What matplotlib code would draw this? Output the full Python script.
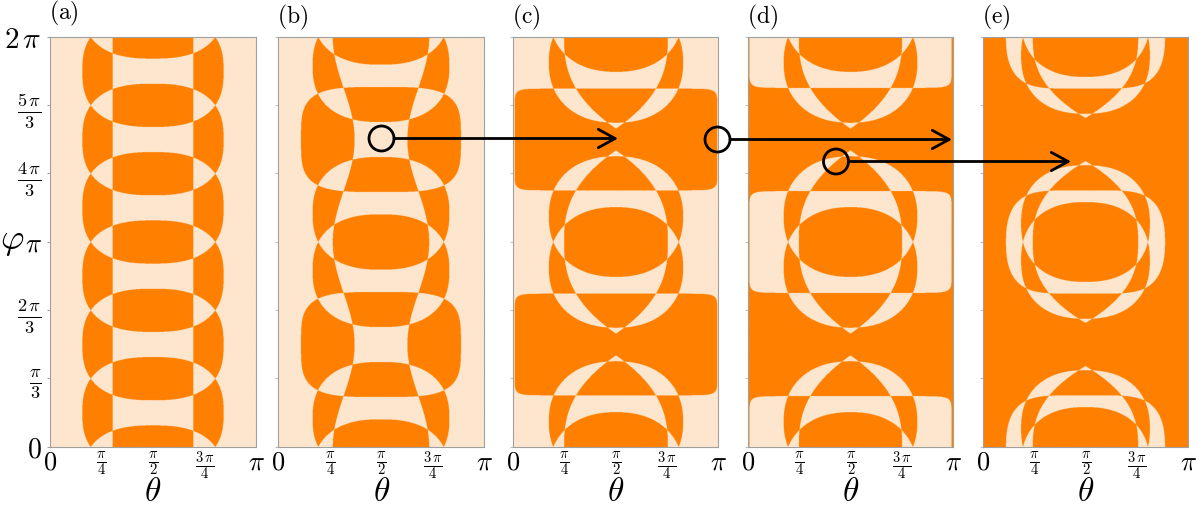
import numpy as np
import matplotlib
matplotlib.use('Agg')
import matplotlib.pyplot as plt
from matplotlib.colors import ListedColormap
from matplotlib.patches import Circle, FancyArrowPatch
import matplotlib.transforms as mtransforms

plt.rcParams['mathtext.fontset'] = 'cm'
plt.rcParams['font.family'] = 'serif'

# ---------------- data (angles in units of pi) ----------------
panel_labels = ['(a)', '(b)', '(c)', '(d)', '(e)']
base_parity = [0, 0, 0, 1, 1]
# central band / lens around phi = k*pi
# 'cos'  : half width = p0 + p1*cos(2*pi*d)
# 'lens' : half width = p0*(1-(d/p1)**q)
band_mode = ['cos', 'cos', 'lens', 'lens', 'lens']
band_p0 = [0.196, 0.181, 0.252, 0.252, 0.257]
band_p1 = [0.0, 0.053, 0.447, 0.447, 0.395]
band_q = [1.0, 1.0, 2.56, 2.56, 2.56]
# small lobes centred at k*pi +/- offset
lobe_off = [1 / 6, 0.14, 0.124, 0.124, 0.09]
lobe_a = [0.343, 0.332, 0.326, 0.326, 0.314]
lobe_h = [0.272, 0.275, 0.294, 0.294, 0.2845]
lobe_n = [2.6, 2.45, 2.25, 2.25, 2.35]
# large lobes centred at c0 + k*pi
big_c0 = [0.5, 0.5, 0.5, 0.0, 0.0]
big_a = [0.343, 0.388, 0.492, 0.493, 0.388]
big_h = [0.272, 0.256, 0.248, 0.248, 0.252]
big_nx = [2.6, 3.8, 16.0, 16.0, 5.0]
big_ny = [2.6, 3.8, 16.0, 16.0, 2.4]

xtick_vals = [0, 0.25, 0.5, 0.75, 1.0]
xtick_labels = [r'$0$', r'$\frac{\pi}{4}$', r'$\frac{\pi}{2}$', r'$\frac{3\,\pi}{4}$', r'$\pi$']
ytick_vals = [0, 1 / 3, 2 / 3, 1, 4 / 3, 5 / 3, 2]
ytick_labels = [r'$0$', r'$\frac{\pi}{3}$', r'$\frac{2\,\pi}{3}$', r'$\pi$',
                r'$\frac{4\,\pi}{3}$', r'$\frac{5\,\pi}{3}$', r'$2\,\pi$']

# ---------------- layout (pixels) ----------------
W, H = 1196, 507
panel_x0 = [50, 278.3, 513.3, 748.3, 983.3]
panel_w = [206, 206, 205, 205, 205]
top_px, bot_px = 36.7, 446.7

ORANGE = '#FF8000'
LIGHT = '#FDE6CE'
cmap = ListedColormap([LIGHT, ORANGE])

NX, NY = 700, 1400
th = (np.arange(NX) + 0.5) / NX          # theta / pi
ph = (np.arange(NY) + 0.5) / NY * 2.0    # phi / pi
TH, PH = np.meshgrid(th, ph)
DTH = np.abs(TH - 0.5)


def lobe(center, a, h, nx, ny):
    return (DTH / a) ** nx + (np.abs(PH - center) / h) ** ny < 1.0


def field(i):
    res = np.full(TH.shape, bool(base_parity[i]))
    d = np.abs(PH - np.round(PH))
    if band_mode[i] == 'cos':
        b = band_p0[i] + band_p1[i] * np.cos(2 * np.pi * d)
    else:
        b = band_p0[i] * np.clip(1.0 - (d / band_p1[i]) ** band_q[i], 0, None)
    res ^= DTH < b
    for k in (0, 1, 2):
        for s in (-1, 1):
            res ^= lobe(k + s * lobe_off[i], lobe_a[i], lobe_h[i], lobe_n[i], lobe_n[i])
    for k in (-1, 0, 1, 2, 3):
        c = big_c0[i] + k
        if -0.6 < c < 2.6:
            res ^= lobe(c, big_a[i], big_h[i], big_nx[i], big_ny[i])
    return res.astype(float)


fig = plt.figure(figsize=(W / 100, H / 100), dpi=100)
for i in range(5):
    ax = fig.add_axes([panel_x0[i] / W, (H - bot_px) / H, panel_w[i] / W, (bot_px - top_px) / H])
    ax.imshow(field(i), cmap=cmap, vmin=0, vmax=1, origin='lower', aspect='auto',
              extent=[0, 1, 0, 2], interpolation='antialiased')
    ax.set_xlim(0, 1)
    ax.set_ylim(0, 2)
    for sp in ax.spines.values():
        sp.set_color('#a0a0a0')
        sp.set_linewidth(0.8)
    ax.set_xticks(xtick_vals)
    ax.set_xticklabels(xtick_labels, fontsize=15)
    xl = ax.get_xticklabels()
    xl[0].set_fontsize(19)
    xl[-1].set_fontsize(19)
    ax.tick_params(axis='x', length=0, pad=2)
    ax.set_yticks(ytick_vals)
    if i == 0:
        ax.set_yticklabels(ytick_labels, fontsize=19)
        labs = ax.get_yticklabels()
        labs[-1].set_fontsize(21)
        labs[0].set_fontsize(20)
        labs[3].set_fontsize(19)
        ax.tick_params(axis='y', length=2, color='#a0a0a0', pad=4)
    else:
        ax.set_yticklabels([])
        ax.tick_params(axis='y', length=2, color='#c0c0c0')
    fig.text((panel_x0[i] + 0.5 * panel_w[i]) / W, (H - 492) / H, r'$\theta$',
             fontsize=24, ha='center', va='center')
    ly = 13 if i == 0 else 17
    fig.text((panel_x0[i] - 1) / W, (H - ly) / H, r'$\mathrm{' + panel_labels[i] + '}$',
             fontsize=17, ha='left', va='center')

fig.text(12 / W, (H - 241) / H, r'$\varphi$', fontsize=26, ha='center', va='center')

# circles and arrows (pixel coordinates, origin top-left)
ident = mtransforms.IdentityTransform()
markers = [((381.5, 138.5), (618, 138.5)),
           ((717.5, 139.5), (952, 139.5)),
           ((836.0, 161.5), (1071, 161.5))]
r = 12.5
for (cx, cy), (ex, ey) in markers:
    circ = Circle((cx, H - cy), r, transform=ident, fill=False, lw=2.0, ec='black', zorder=10)
    fig.add_artist(circ)
    arr = FancyArrowPatch((cx + r, H - cy), (ex, H - ey), transform=ident,
                          arrowstyle='->,head_length=0.55,head_width=0.3',
                          mutation_scale=22, lw=2.0, color='black', zorder=10,
                          shrinkA=0, shrinkB=0)
    fig.add_artist(arr)

fig.savefig('out.png', dpi=100)
